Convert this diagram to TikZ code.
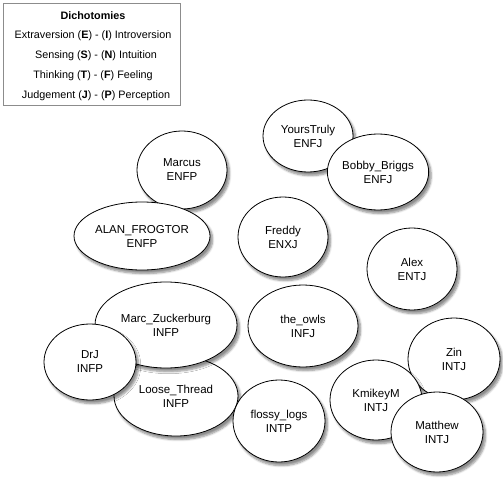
\documentclass[tikz,border=0pt]{standalone}
\usepackage{fontspec}
\setmainfont{Liberation Sans}
\usetikzlibrary{shapes.geometric,shadows.blur}
\tikzset{
  person/.style={ellipse, draw=black, line width=0.8bp, fill=white, inner sep=0pt, align=center,
    font=\fontsize{11.5bp}{14bp}\selectfont,
    blur shadow={shadow xshift=2.5bp, shadow yshift=-3.5bp, shadow blur steps=6, shadow blur extra rounding=1.5bp, shadow opacity=45}},
  legendline/.style={font=\fontsize{10.8bp}{13bp}\selectfont, inner sep=0pt}
}
\begin{document}
\begin{tikzpicture}[x=1bp,y=-1bp]
\useasboundingbox (0,0) rectangle (503,483);
% legend
\node[draw=black!45, line width=0.6bp, minimum width=177bp, minimum height=102bp, inner sep=0pt] (legend) at (91.5,54) {};
\node[legendline, font=\fontsize{10.8bp}{13bp}\selectfont\bfseries] (title) at (93,16) {Dichotomies};
\node[legendline] (l1) at (93,36) {Extraversion (\textbf{E}) - (\textbf{I}) Introversion};
\node[legendline] (l2) at (96,56) {Sensing (\textbf{S}) - (\textbf{N}) Intuition};
\node[legendline] (l3) at (93,76) {Thinking (\textbf{T}) - (\textbf{F}) Feeling};
\node[legendline] (l4) at (96,96) {Judgement (\textbf{J}) - (\textbf{P}) Perception};
% ellipses
\node[person, minimum width=90bp, minimum height=78bp] (marcus) at (182,170) {Marcus\\ENFP};
\node[person, minimum width=136bp, minimum height=68bp] (alan) at (142,236) {ALAN\_FROGTOR\\ENFP};
\node[person, minimum width=90bp, minimum height=72bp] (yours) at (308,136) {YoursTruly\\ENFJ};
\node[person, minimum width=100bp, minimum height=76bp] (bobby) at (378,172) {Bobby\_Briggs\\ENFJ};
\node[person, minimum width=90bp, minimum height=80bp] (freddy) at (283,237) {Freddy\\ENXJ};
\node[person, minimum width=90bp, minimum height=82bp] (alex) at (412,269) {Alex\\ENTJ};
\node[person, minimum width=110bp, minimum height=82bp] (owls) at (303,326) {the\_owls\\INFJ};
\node[person, minimum width=124bp, minimum height=80bp] (loose) at (176,396) {Loose\_Thread\\INFP};
\node[person, minimum width=142bp, minimum height=86bp] (marc) at (166,325) {Marc\_Zuckerburg\\INFP};
\node[person, minimum width=92bp, minimum height=76bp] (drj) at (90,362) {DrJ\\INFP};
\node[person, minimum width=92bp, minimum height=82bp] (flossy) at (279,421) {flossy\_logs\\INTP};
\node[person, minimum width=92bp, minimum height=82bp] (zin) at (454,359) {Zin\\INTJ};
\node[person, minimum width=92bp, minimum height=80bp] (kmikey) at (376,400) {KmikeyM\\INTJ};
\node[person, minimum width=92bp, minimum height=80bp] (matthew) at (437,432) {Matthew\\INTJ};
\end{tikzpicture}
\end{document}
